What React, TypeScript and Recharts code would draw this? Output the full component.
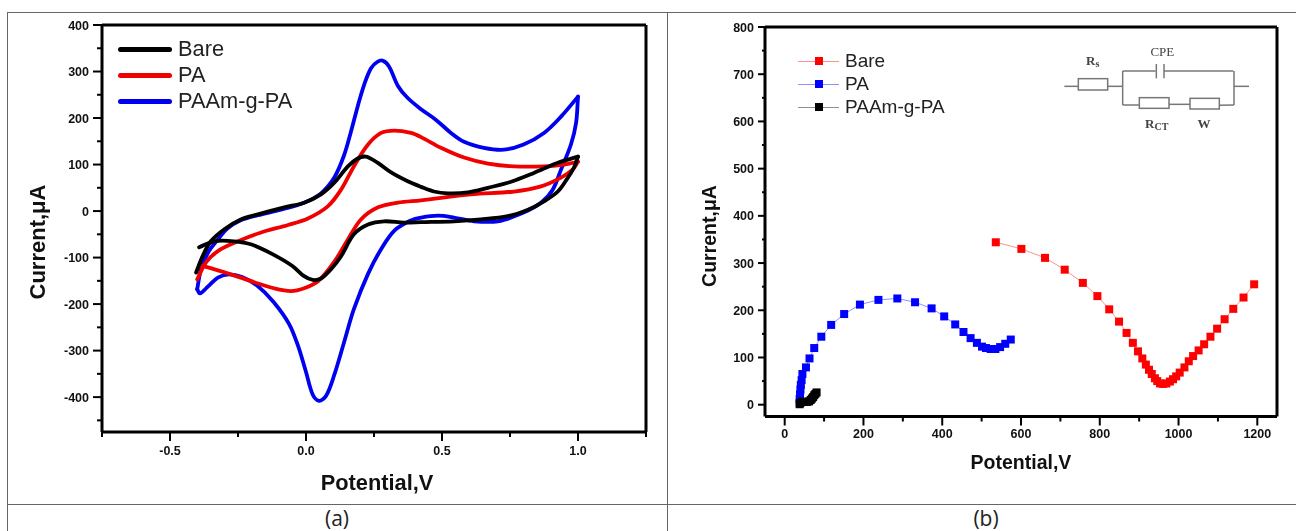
import React from "react";
import { LineChart, Line, XAxis, YAxis, ReferenceLine } from "recharts";

type P = [number, number];
const toRows = (p: P[]) => p.map(([x, y]) => ({ x, y }));

const cvBlueUp: P[] = [[-0.4,-168],[-0.386,-125],[-0.36,-89],[-0.324,-61],[-0.29,-38],[-0.24,-20],[-0.177,-9],[-0.092,3],[-0.007,18],[0.055,38],[0.104,72],[0.14,120],[0.165,170],[0.19,225],[0.214,272],[0.239,307],[0.263,321],[0.283,323],[0.306,310],[0.338,269],[0.374,243],[0.423,219],[0.478,196],[0.533,168],[0.581,149],[0.654,136],[0.728,132],[0.8,143],[0.875,168],[0.9375,203],[1,246]];
const cvBlueDown: P[] = [[1,246],[0.993,190],[0.974,143],[0.9375,89],[0.907,46],[0.864,18],[0.8,-3],[0.705,-22],[0.618,-22],[0.544,-14],[0.485,-10],[0.423,-14],[0.386,-20],[0.325,-42],[0.276,-82],[0.228,-135],[0.176,-211],[0.14,-282],[0.103,-354],[0.074,-397],[0.048,-408],[0.025,-395],[0,-346],[-0.028,-292],[-0.062,-243],[-0.12,-195],[-0.18,-160],[-0.235,-142],[-0.283,-136],[-0.324,-143],[-0.36,-162],[-0.39,-177],[-0.4,-168]];
const cvRedUp: P[] = [[-0.4,-147],[-0.367,-110],[-0.324,-86],[-0.25,-65],[-0.165,-46],[-0.066,-30],[0.007,-16],[0.08,10],[0.129,46],[0.176,96],[0.228,143],[0.276,168],[0.325,173],[0.386,168],[0.423,159],[0.496,136],[0.581,115],[0.669,102],[0.765,96],[0.875,96],[0.949,100],[1,106]];
const cvRedDown: P[] = [[1,106],[0.98,89],[0.9375,72],[0.864,53],[0.765,42],[0.607,36],[0.423,23],[0.338,18],[0.265,8],[0.202,-18],[0.154,-61],[0.103,-110],[0.044,-151],[-0.007,-166],[-0.055,-172],[-0.118,-166],[-0.19,-153],[-0.276,-136],[-0.36,-121],[-0.39,-118]];
const cvBlackUp: P[] = [[-0.404,-132],[-0.38,-97],[-0.35,-65],[-0.3,-39],[-0.24,-18],[-0.177,-7],[-0.08,8],[-0.007,18],[0.055,36],[0.104,61],[0.154,96],[0.19,113],[0.22,117],[0.263,104],[0.313,83],[0.374,64],[0.423,52],[0.47,42],[0.522,38],[0.595,40],[0.669,50],[0.754,63],[0.838,82],[0.926,104],[1,117]];
const cvBlackDown: P[] = [[1,117],[0.985,93],[0.963,72],[0.926,42],[0.875,21],[0.816,3],[0.742,-11],[0.643,-18],[0.544,-22],[0.423,-24],[0.36,-25],[0.287,-22],[0.228,-29],[0.176,-50],[0.129,-97],[0.092,-125],[0.055,-145],[0.025,-148],[-0.007,-140],[-0.05,-118],[-0.125,-92],[-0.2,-72],[-0.265,-65],[-0.338,-65],[-0.393,-78]];

const nyRed: P[] = [[536,344],[601,330],[661,311],[711,286],[757,258],[794,230],[824,202],[849,176],[868,152],[884,131],[897,113],[908,98],[917,85],[925,74],[932,65],[940,56],[946,50],[953,45],[961,44],[969,45],[978,49],[986,54],[994,60],[1003,68],[1015,79],[1026,92],[1037,103],[1051,115],[1065,128],[1081,144],[1098,161],[1117,181],[1139,203],[1165,227],[1192,255]];
const nyBlue: P[] = [[38,4],[38,12],[39,22],[40,32],[41,42],[43,52],[45,65],[54,79],[63,98],[75,120],[93,144],[118,169],[151,192],[191,212],[238,222],[286,225],[331,217],[373,204],[405,187],[433,170],[454,154],[472,141],[488,131],[501,123],[511,120],[523,118],[535,118],[547,122],[560,129],[574,138]];
const nyBlack: P[] = [[38,1],[40,4],[44,6],[50,6],[57,6],[62,7],[66,10],[69,13],[72,16],[75,20],[78,23],[81,26]];

const cvLegend = [{ name: "Bare", color: "#000000" }, { name: "PA", color: "#f00000" }, { name: "PAAm-g-PA", color: "#0000f0" }];
const nyLegend = [{ name: "Bare", color: "#ff0000", line: "#ff9090" }, { name: "PA", color: "#0000ff", line: "#9090ff" }, { name: "PAAm-g-PA", color: "#000000", line: "#909090" }];

const cvXTicks = [-0.75,-0.5,-0.25,0,0.25,0.5,0.75,1,1.25];
const cvXMajor = [-0.5,0,0.5,1];
const cvYTicks = [-450,-400,-350,-300,-250,-200,-150,-100,-50,0,50,100,150,200,250,300,350,400];
const nyXTicks = [0,100,200,300,400,500,600,700,800,900,1000,1100,1200];
const nyYTicks = [0,50,100,150,200,250,300,350,400,450,500,550,600,650,700,750,800];

const SANS = "'Liberation Sans', Arial, sans-serif";
const SERIF = "'Liberation Serif', serif";
const INK = "#111";
const BLUR = "blur(0.45px)";

// Chord-length Hermite curve: stays smooth through the unevenly spaced points of a closed scan.
const smoothCurve = (ctx: any) => {
  let pts: number[][] = [];
  return {
    areaStart() {},
    areaEnd() {},
    lineStart() { pts = []; },
    point(x: number, y: number) { pts.push([+x, +y]); },
    lineEnd() {
      const n = pts.length;
      if (!n) return;
      const d: number[] = [];
      for (let i = 0; i < n - 1; i++) d.push(Math.hypot(pts[i + 1][0] - pts[i][0], pts[i + 1][1] - pts[i][1]) || 1e-6);
      const tan = pts.map((_, i) => {
        const a = pts[Math.max(i - 1, 0)];
        const b = pts[Math.min(i + 1, n - 1)];
        const s = i === 0 ? d[0] : i === n - 1 ? d[n - 2] : d[i - 1] + d[i];
        return [(b[0] - a[0]) / s, (b[1] - a[1]) / s];
      });
      ctx.moveTo(pts[0][0], pts[0][1]);
      for (let i = 0; i < n - 1; i++) {
        const h = d[i] / 3;
        ctx.bezierCurveTo(pts[i][0] + tan[i][0] * h, pts[i][1] + tan[i][1] * h, pts[i + 1][0] - tan[i + 1][0] * h, pts[i + 1][1] - tan[i + 1][1] * h, pts[i + 1][0], pts[i + 1][1]);
      }
    },
  };
};

const fmtA = (v: number) => v.toFixed(1);

function xTick(isMajor: (v: number) => boolean, fmt: (v: number) => string, labelDy: number) {
  return (p: any) => {
    const major = isMajor(p.payload.value);
    return (
      <g>
        <line x1={p.x} x2={p.x} y1={p.y} y2={p.y + (major ? 9 : 5)} stroke="#000" strokeWidth={2} />
        {major && <text x={p.x} y={p.y + labelDy} textAnchor="middle" fontFamily={SANS} fontWeight="bold" fontSize={12.5} fill={INK}>{fmt(p.payload.value)}</text>}
      </g>
    );
  };
}
function yTick(labelGap: number, len: number) {
  return (p: any) => {
    const major = p.payload.value % 100 === 0;
    return (
      <g>
        <line x1={p.x} x2={p.x - (major ? len : len - 4)} y1={p.y} y2={p.y} stroke="#000" strokeWidth={2} />
        {major && <text x={p.x - labelGap} y={p.y + 4.5} textAnchor="end" fontFamily={SANS} fontWeight="bold" fontSize={12.5} fill={INK}>{p.payload.value}</text>}
      </g>
    );
  };
}
const axisTitle = (text: string, x: number, y: number, size: number, rot = false) => (
  <text x={x} y={y} textAnchor="middle" dominantBaseline="central" transform={rot ? `rotate(-90 ${x} ${y})` : undefined} fontFamily={SANS} fontWeight="bold" fontSize={size} fill={INK}>{text}</text>
);

const square = (color: string) => (p: any) => <rect key={p.index} x={p.cx - 4} y={p.cy - 4} width={8} height={8} fill={color} />;

function Circuit() {
  const X = (v: number) => 1040 + v / 3;
  const Y = (v: number) => 30 + v / 3;
  const segs = [[73,169,115,169],[203,169,248,169],[248,123,248,225],[248,123,347,123],[349,102,349,145],[372,102,372,145],[372,123,580,123],[582,123,582,225],[582,169,627,169],[248,225,298,225],[387,223,450,223],[538,226,582,225]];
  const boxes = [[115,146,88,34],[298,203,89,32],[450,205,88,32]];
  return (
    <svg width={1296} height={531} style={{ position: "absolute", left: 0, top: 0, pointerEvents: "none", filter: BLUR }}>
      <g stroke="#777" strokeWidth={1.5} fill="none">
        {segs.map((s, i) => <line key={i} x1={X(s[0])} y1={Y(s[1])} x2={X(s[2])} y2={Y(s[3])} />)}
        {boxes.map((b, i) => <rect key={i} x={X(b[0])} y={Y(b[1])} width={b[2] / 3} height={b[3] / 3} />)}
      </g>
      <g fontFamily={SERIF} fill="#444" fontSize={13}>
        <text x={X(367)} y={Y(78)} textAnchor="middle">CPE</text>
        <text x={X(158)} y={Y(105)} textAnchor="middle" fontWeight="bold">R<tspan fontSize={10} dy={2}>s</tspan></text>
        <text x={X(350)} y={Y(293)} textAnchor="middle" fontWeight="bold">R<tspan fontSize={10} dy={2}>CT</tspan></text>
        <text x={X(492)} y={Y(293)} textAnchor="middle" fontWeight="bold">W</text>
      </g>
    </svg>
  );
}

function Table() {
  const line = (s: React.CSSProperties) => <div style={{ position: "absolute", background: "#666", ...s }} />;
  const cap = (t: string, x: number) => <div style={{ position: "absolute", left: x - 30, width: 60, top: 505, textAlign: "center", fontFamily: "'Open Sans', sans-serif", fontSize: 21, lineHeight: "26px", color: "#222" }}>{t}</div>;
  return (
    <>
      {line({ left: 7, top: 12, width: 1289, height: 1 })}
      {line({ left: 7, top: 504, width: 1289, height: 1 })}
      {line({ left: 7, top: 12, width: 1, height: 519 })}
      {line({ left: 667, top: 12, width: 1, height: 519 })}
      {cap("(a)", 337)}
      {cap("(b)", 986)}
    </>
  );
}

const frame = { stroke: "#000", strokeWidth: 3 };

function CvChart() {
  const domX: [number, number] = [-0.75, 1.25];
  const domY: [number, number] = [-475, 400];
  const series: [P[], string][] = [[cvBlueUp, "#0000f0"], [cvBlueDown, "#0000f0"], [cvRedUp, "#f00000"], [cvRedDown, "#f00000"], [cvBlackUp, "#000"], [cvBlackDown, "#000"]];
  return (
    <div style={{ position: "absolute", left: 0, top: 0, filter: BLUR }}>
      <LineChart width={660} height={500} margin={{ top: 25, right: 14, bottom: 0, left: 0 }}>
        <XAxis dataKey="x" type="number" domain={domX} ticks={cvXTicks} height={68} interval={0} tickSize={0} tickMargin={0} tickLine={false} tick={xTick(v => cvXMajor.includes(v), fmtA, 23)} axisLine={frame} label={{ content: () => axisTitle("Potential,V", 377, 482, 21.8) }} />
        <YAxis type="number" domain={domY} ticks={cvYTicks} width={102} interval={0} tickSize={0} tickMargin={0} tickLine={false} tick={yTick(13, 9)} axisLine={frame} label={{ content: () => axisTitle("Current,μA", 37, 242, 22, true) }} />
        <ReferenceLine y={400} {...frame} />
        <ReferenceLine x={1.25} {...frame} />
        {series.map(([d, c], i) => (
          <Line key={i} data={toRows(d)} dataKey="y" type={smoothCurve as any} stroke={c} strokeWidth={3.8} dot={false} isAnimationActive={false} strokeLinecap="round" strokeLinejoin="round" />
        ))}
      </LineChart>
      <div style={{ position: "absolute", left: 118, top: 0 }}>
        {cvLegend.map((l, i) => (
          <div key={l.name} style={{ position: "absolute", top: 36 + i * 26, left: 0, height: 26, display: "flex", alignItems: "center", whiteSpace: "nowrap" }}>
            <span style={{ width: 54, height: 5, background: l.color, borderRadius: 2.5, marginRight: 6 }} />
            <span style={{ fontFamily: SANS, fontSize: 21.8, color: "#222" }}>{l.name}</span>
          </div>
        ))}
      </div>
    </div>
  );
}

function NyChart() {
  const domX: [number, number] = [-50, 1250];
  const domY: [number, number] = [-25, 800];
  const series: [P[], string, string][] = [[nyRed, "#ff0000", "#ff9090"], [nyBlue, "#0000ff", "#9090ff"], [nyBlack, "#000", "#000"]];
  return (
    <div style={{ position: "absolute", left: 668, top: 0, filter: BLUR }}>
      <LineChart width={628} height={500} margin={{ top: 27, right: 19, bottom: 0, left: 0 }}>
        <XAxis dataKey="x" type="number" domain={domX} ticks={nyXTicks} height={83.5} interval={0} tickSize={0} tickMargin={0} tickLine={false} tick={xTick(v => v % 200 === 0, v => String(v), 21)} axisLine={frame} label={{ content: () => axisTitle("Potential,V", 353, 462, 19.5) }} />
        <YAxis type="number" domain={domY} ticks={nyYTicks} width={97} interval={0} tickSize={0} tickMargin={0} tickLine={false} tick={yTick(11, 7)} axisLine={frame} label={{ content: () => axisTitle("Current,μA", 41, 236, 19.5, true) }} />
        <ReferenceLine y={800} {...frame} />
        <ReferenceLine x={1250} {...frame} />
        {series.map(([d, c, lc], i) => (
          <Line key={i} data={toRows(d)} dataKey="y" type="linear" stroke={lc} strokeWidth={1} dot={square(c)} isAnimationActive={false} />
        ))}
      </LineChart>
      <div style={{ position: "absolute", left: 130, top: 0 }}>
        {nyLegend.map((l, i) => (
          <div key={l.name} style={{ position: "absolute", top: 49 + i * 23, left: 0, height: 24, display: "flex", alignItems: "center", whiteSpace: "nowrap" }}>
            <span style={{ position: "relative", width: 41, height: 1, background: l.line, marginRight: 6 }}>
              <span style={{ position: "absolute", left: 16.5, top: -3.5, width: 8, height: 8, background: l.color }} />
            </span>
            <span style={{ fontFamily: SANS, fontSize: 19, color: "#222" }}>{l.name}</span>
          </div>
        ))}
      </div>
    </div>
  );
}

export default function App() {
  return (
    <div style={{ position: "absolute", left: 0, top: 0, width: 1296, height: 531, background: "#fff", overflow: "hidden" }}>
      <Table />
      <CvChart />
      <NyChart />
      <Circuit />
    </div>
  );
}
